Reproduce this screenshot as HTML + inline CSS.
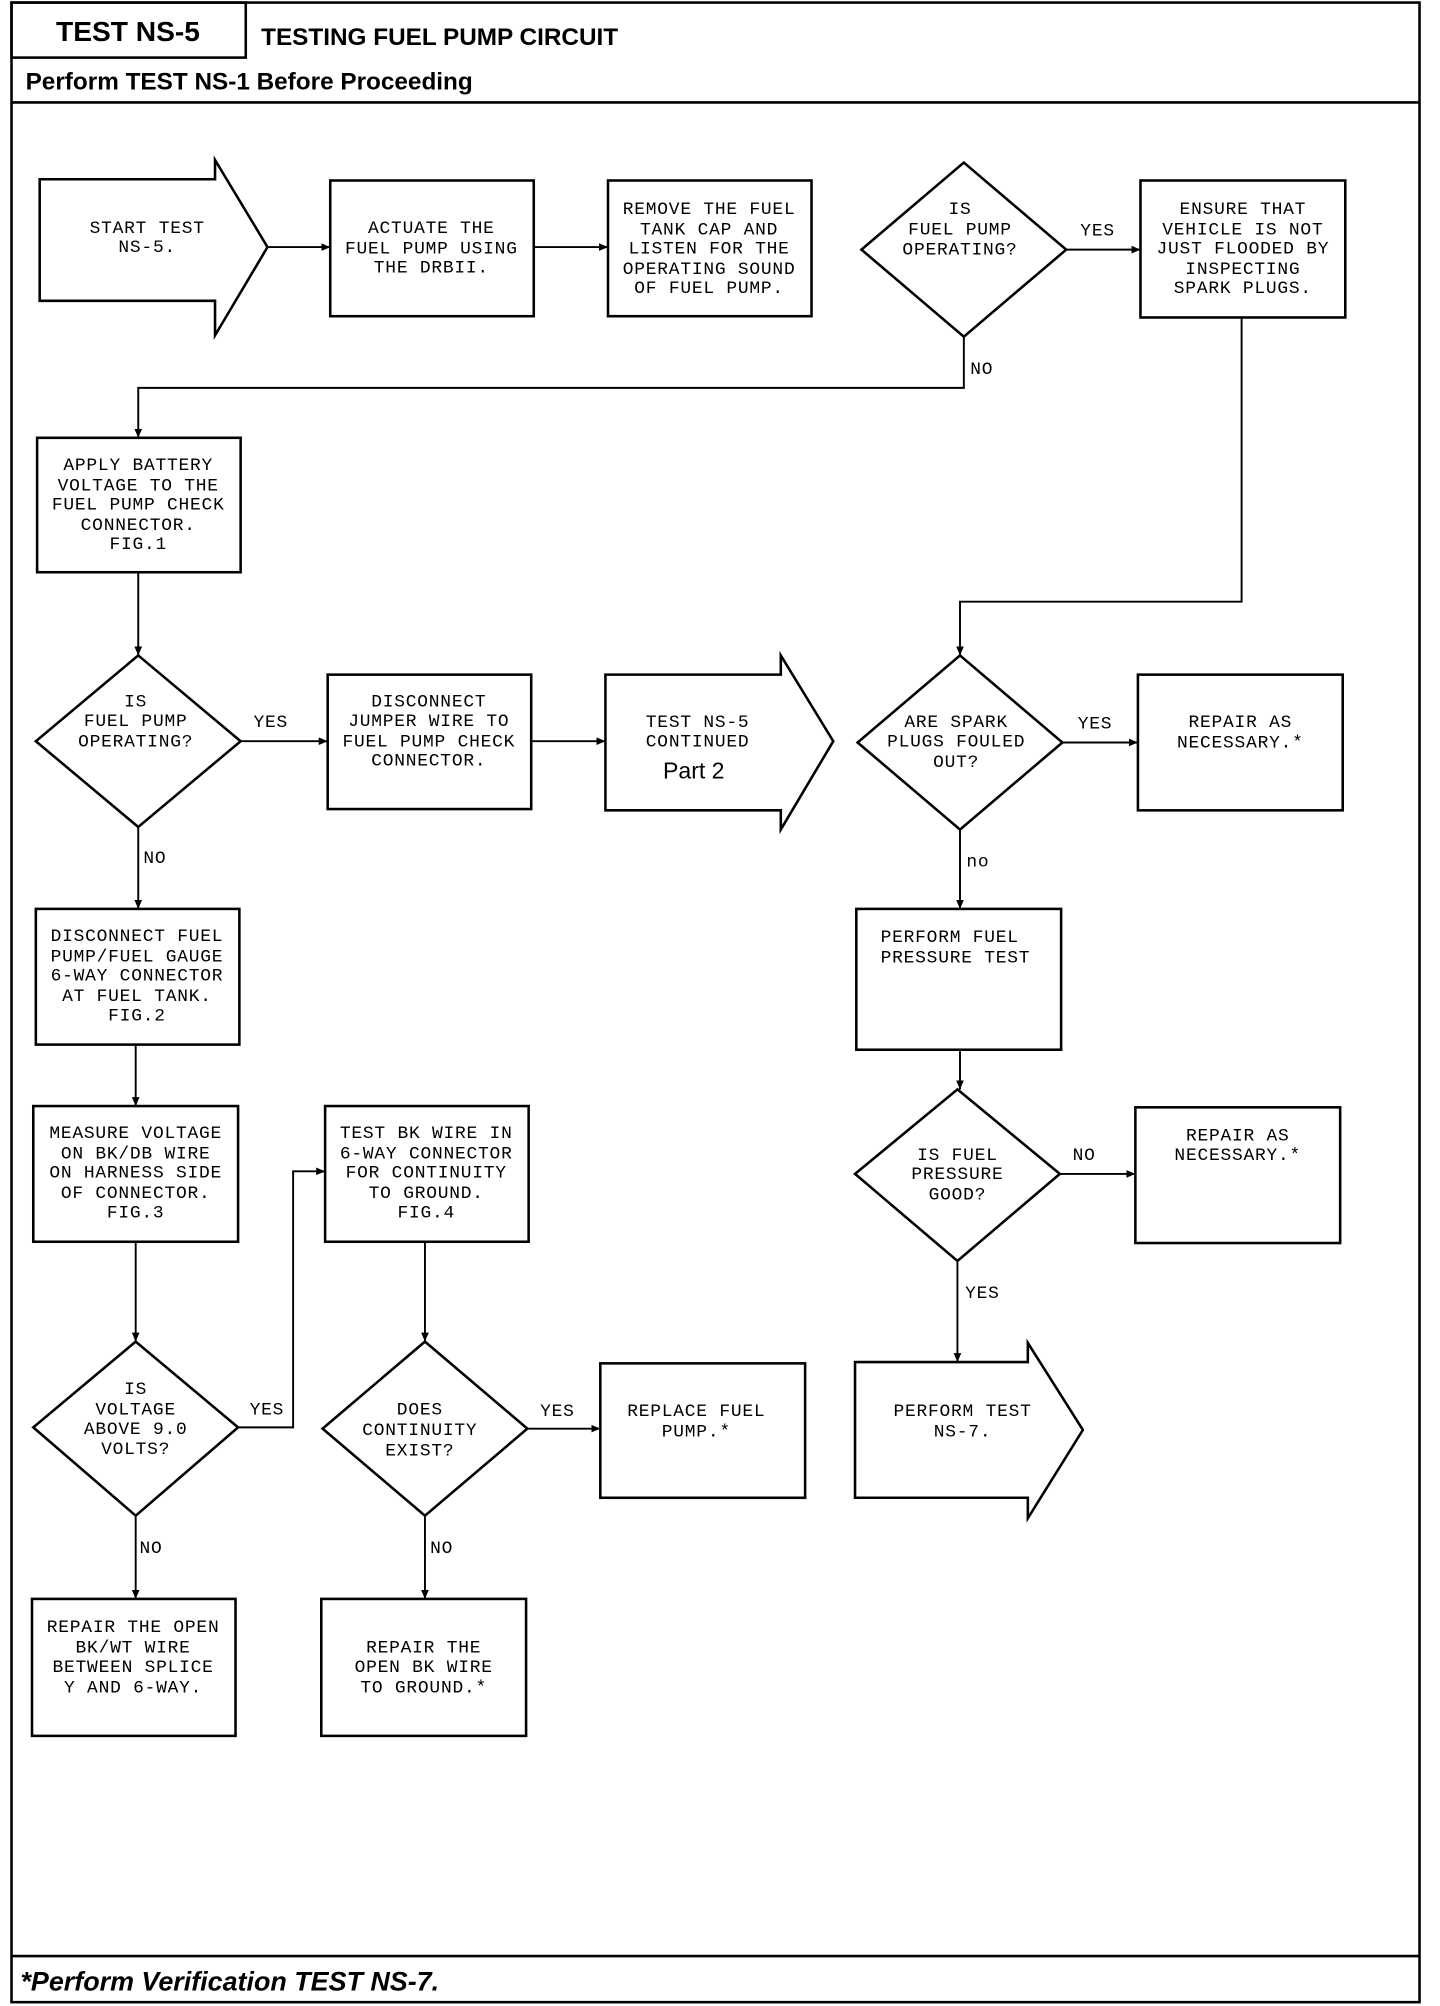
<!DOCTYPE html>
<html><head><meta charset="utf-8"><style>
html,body{margin:0;padding:0;background:#fff;}
svg{display:block;}
.t{font-family:"Liberation Mono",monospace;font-size:14px;letter-spacing:0.6px;text-anchor:middle;fill:#000;}
.l{font-family:"Liberation Mono",monospace;font-size:14px;letter-spacing:0.6px;fill:#000;}
.h{font-family:"Liberation Sans",sans-serif;font-weight:bold;fill:#000;}
</style></head><body>
<svg width="1440" height="2006" viewBox="0 0 1125 1567" preserveAspectRatio="none" xmlns="http://www.w3.org/2000/svg">
<defs><marker id="a" markerWidth="8" markerHeight="8" refX="7" refY="4" orient="auto" markerUnits="userSpaceOnUse"><path d="M0,1 L7,4 L0,7 z" fill="#000"/></marker></defs>
<g fill="none" stroke="#000" stroke-width="2">
<rect x="9" y="2" width="1100" height="1562"/>
<rect x="9" y="2" width="183" height="43"/>
<line x1="9" y1="80" x2="1109" y2="80"/>
<line x1="9" y1="1528" x2="1109" y2="1528"/>
<polygon points="31,140 168,140 168,125 209,193 168,262 168,235 31,235"/>
<rect x="258" y="141" width="159" height="106"/>
<rect x="475" y="141" width="159" height="106"/>
<polygon points="753,127 833,195 753,263 673,195"/>
<rect x="891" y="141" width="160" height="107"/>
<rect x="29" y="342" width="159" height="105"/>
<polygon points="108,512 188,579 108,646 28,579"/>
<rect x="256" y="527" width="159" height="105"/>
<polygon points="473,527 610,527 610,512 651,579 610,648 610,633 473,633"/>
<polygon points="750,512 830,580 750,648 670,580"/>
<rect x="889" y="527" width="160" height="106"/>
<rect x="669" y="710" width="160" height="110"/>
<polygon points="748,851 828,917 748,985 668,917"/>
<rect x="887" y="865" width="160" height="106"/>
<polygon points="668,1064 803,1064 803,1049 846,1117 803,1186 803,1170 668,1170"/>
<rect x="28" y="710" width="159" height="106"/>
<rect x="26" y="864" width="160" height="106"/>
<polygon points="106,1048 186,1115 106,1184 26,1115"/>
<rect x="254" y="864" width="159" height="106"/>
<polygon points="332,1048 412,1116 332,1184 252,1116"/>
<rect x="469" y="1065" width="160" height="105"/>
<rect x="25" y="1249" width="159" height="107"/>
<rect x="251" y="1249" width="160" height="107"/>
</g>
<g fill="none" stroke="#000" stroke-width="1.5" marker-end="url(#a)">
<line x1="209" y1="193" x2="258" y2="193"/>
<line x1="417" y1="193" x2="475" y2="193"/>
<line x1="833" y1="195" x2="891" y2="195"/>
<polyline points="753,263 753,303 108,303 108,342"/>
<line x1="108" y1="447" x2="108" y2="512"/>
<line x1="188" y1="579" x2="256" y2="579"/>
<line x1="415" y1="579" x2="473" y2="579"/>
<polyline points="970,248 970,470 750,470 750,512"/>
<line x1="830" y1="580" x2="889" y2="580"/>
<line x1="750" y1="648" x2="750" y2="710"/>
<line x1="750" y1="820" x2="750" y2="851"/>
<line x1="828" y1="917" x2="887" y2="917"/>
<line x1="748" y1="985" x2="748" y2="1064"/>
<line x1="108" y1="646" x2="108" y2="710"/>
<line x1="106" y1="816" x2="106" y2="864"/>
<line x1="106" y1="970" x2="106" y2="1048"/>
<polyline points="186,1115 229,1115 229,915 254,915"/>
<line x1="332" y1="970" x2="332" y2="1048"/>
<line x1="412" y1="1116" x2="469" y2="1116"/>
<line x1="106" y1="1184" x2="106" y2="1249"/>
<line x1="332" y1="1184" x2="332" y2="1249"/>
</g>
<text class="h" x="100" y="32" font-size="22" text-anchor="middle">TEST NS-5</text>
<text class="h" x="204" y="35" font-size="19">TESTING FUEL PUMP CIRCUIT</text>
<text class="h" x="20" y="70" font-size="19">Perform TEST NS-1 Before Proceeding</text>
<text class="h" x="16" y="1555" font-size="21" font-style="italic">*Perform Verification TEST NS-7.</text>
<g class="t">
<text x="115" y="182">START TEST</text><text x="115" y="197">NS-5.</text>
<text x="337" y="182">ACTUATE THE</text><text x="337" y="198">FUEL PUMP USING</text><text x="337" y="213">THE DRBII.</text>
<text x="554" y="167">REMOVE THE FUEL</text><text x="554" y="183">TANK CAP AND</text><text x="554" y="198">LISTEN FOR THE</text><text x="554" y="214">OPERATING SOUND</text><text x="554" y="229">OF FUEL PUMP.</text>
<text x="750" y="167">IS</text><text x="750" y="183">FUEL PUMP</text><text x="750" y="199">OPERATING?</text>
<text x="971" y="167">ENSURE THAT</text><text x="971" y="183">VEHICLE IS NOT</text><text x="971" y="198">JUST FLOODED BY</text><text x="971" y="214">INSPECTING</text><text x="971" y="229">SPARK PLUGS.</text>
<text x="108" y="367">APPLY BATTERY</text><text x="108" y="383">VOLTAGE TO THE</text><text x="108" y="398">FUEL PUMP CHECK</text><text x="108" y="414">CONNECTOR.</text><text x="108" y="429">FIG.1</text>
<text x="106" y="552">IS</text><text x="106" y="567">FUEL PUMP</text><text x="106" y="583">OPERATING?</text>
<text x="335" y="552">DISCONNECT</text><text x="335" y="567">JUMPER WIRE TO</text><text x="335" y="583">FUEL PUMP CHECK</text><text x="335" y="598">CONNECTOR.</text>
<text x="545" y="568">TEST NS-5</text><text x="545" y="583">CONTINUED</text>
<text x="747" y="568">ARE SPARK</text><text x="747" y="583">PLUGS FOULED</text><text x="747" y="599">OUT?</text>
<text x="969" y="568">REPAIR AS</text><text x="969" y="584">NECESSARY.*</text>
<text x="748" y="906">IS FUEL</text><text x="748" y="921">PRESSURE</text><text x="748" y="937">GOOD?</text>
<text x="967" y="891">REPAIR AS</text><text x="967" y="906">NECESSARY.*</text>
<text x="752" y="1106">PERFORM TEST</text><text x="752" y="1122">NS-7.</text>
<text x="107" y="735">DISCONNECT FUEL</text><text x="107" y="751">PUMP/FUEL GAUGE</text><text x="107" y="766">6-WAY CONNECTOR</text><text x="107" y="782">AT FUEL TANK.</text><text x="107" y="797">FIG.2</text>
<text x="106" y="889">MEASURE VOLTAGE</text><text x="106" y="905">ON BK/DB WIRE</text><text x="106" y="920">ON HARNESS SIDE</text><text x="106" y="936">OF CONNECTOR.</text><text x="106" y="951">FIG.3</text>
<text x="106" y="1089">IS</text><text x="106" y="1105">VOLTAGE</text><text x="106" y="1120">ABOVE 9.0</text><text x="106" y="1136">VOLTS?</text>
<text x="333" y="889">TEST BK WIRE IN</text><text x="333" y="905">6-WAY CONNECTOR</text><text x="333" y="920">FOR CONTINUITY</text><text x="333" y="936">TO GROUND.</text><text x="333" y="951">FIG.4</text>
<text x="328" y="1105">DOES</text><text x="328" y="1121">CONTINUITY</text><text x="328" y="1137">EXIST?</text>
<text x="544" y="1106">REPLACE FUEL</text><text x="544" y="1122">PUMP.*</text>
<text x="104" y="1275">REPAIR THE OPEN</text><text x="104" y="1291">BK/WT WIRE</text><text x="104" y="1306">BETWEEN SPLICE</text><text x="104" y="1322">Y AND 6-WAY.</text>
<text x="331" y="1291">REPAIR THE</text><text x="331" y="1306">OPEN BK WIRE</text><text x="331" y="1322">TO GROUND.*</text>
</g>
<g class="l">
<text x="688" y="736">PERFORM FUEL</text><text x="688" y="752">PRESSURE TEST</text>
<text x="844" y="184">YES</text><text x="758" y="292">NO</text>
<text x="198" y="568">YES</text><text x="112" y="674">NO</text>
<text x="842" y="569">YES</text><text x="755" y="677">no</text>
<text x="838" y="906">NO</text><text x="754" y="1014">YES</text>
<text x="195" y="1105">YES</text><text x="109" y="1213">NO</text>
<text x="422" y="1106">YES</text><text x="336" y="1213">NO</text>
</g>
<text x="542" y="608" font-family="Liberation Sans,sans-serif" font-size="18" text-anchor="middle">Part 2</text>
</svg>
</body></html>
